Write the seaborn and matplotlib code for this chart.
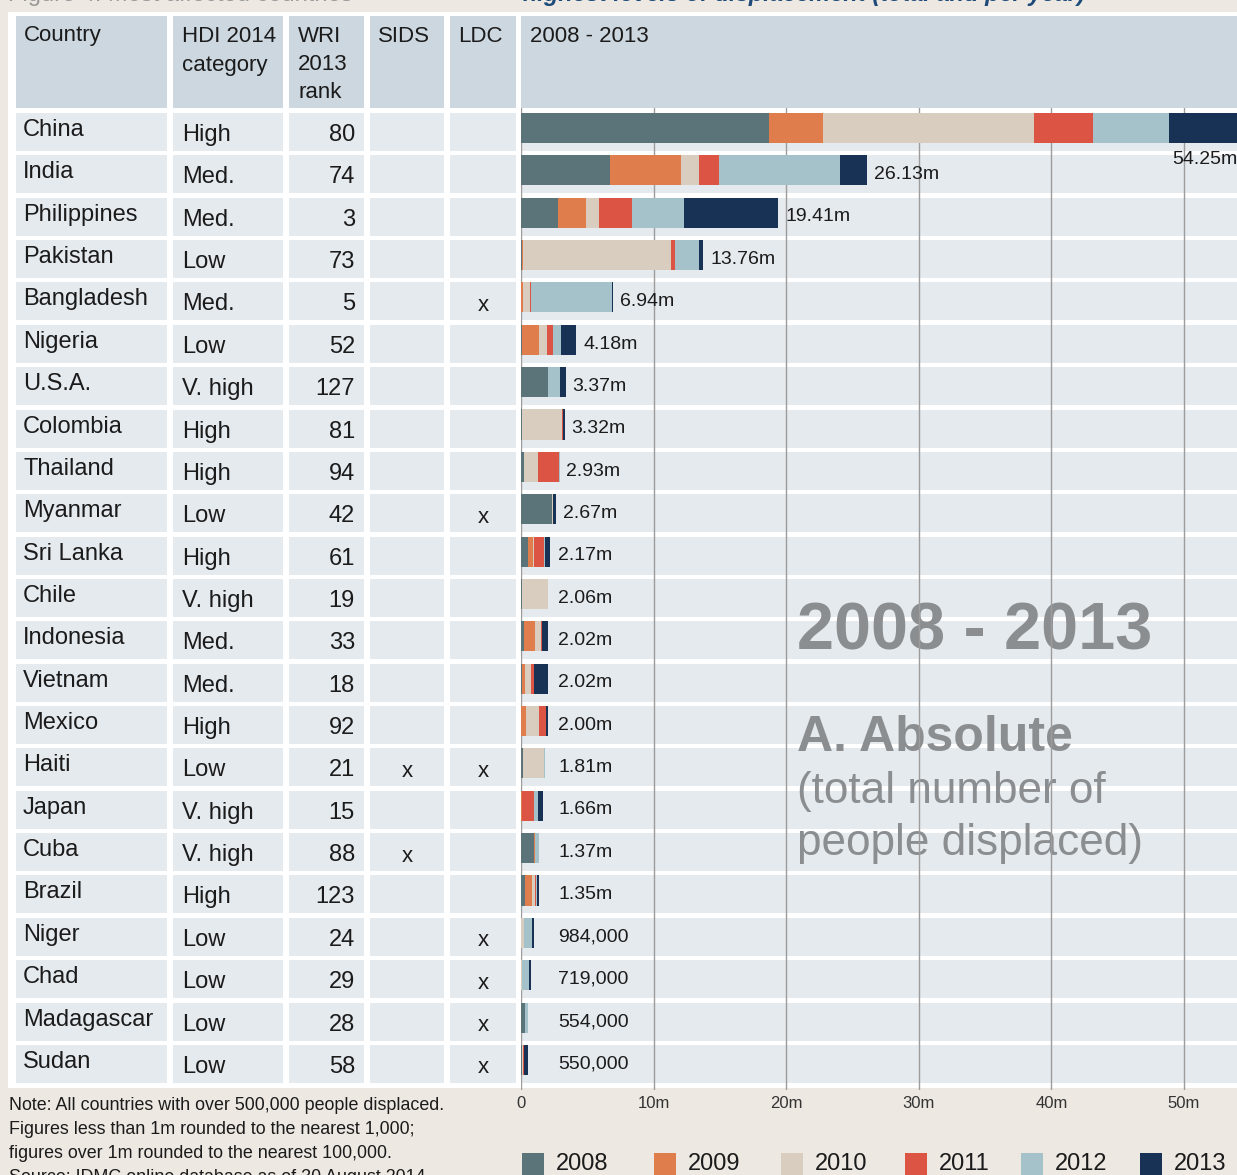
import matplotlib
matplotlib.use("Agg")
import matplotlib.pyplot as plt
from matplotlib.patches import Rectangle
import pandas as pd
import seaborn as sns

# ---- data ----
COUNTRIES = ["China", "India", "Philippines", "Pakistan", "Bangladesh", "Nigeria", "U.S.A.",
             "Colombia", "Thailand", "Myanmar", "Sri Lanka", "Chile", "Indonesia", "Vietnam",
             "Mexico", "Haiti", "Japan", "Cuba", "Brazil", "Niger", "Chad", "Madagascar", "Sudan"]
HDI = ["High", "Med.", "Med.", "Low", "Med.", "Low", "V. high", "High", "High", "Low", "High",
       "V. high", "Med.", "Med.", "High", "Low", "V. high", "V. high", "High", "Low", "Low", "Low", "Low"]
WRI = [80, 74, 3, 73, 5, 52, 127, 81, 94, 42, 61, 19, 33, 18, 92, 21, 15, 88, 123, 24, 29, 28, 58]
SIDS = ["", "", "", "", "", "", "", "", "", "", "", "", "", "", "", "x", "", "x", "", "", "", "", ""]
LDC = ["", "", "", "", "x", "", "", "", "", "x", "", "", "", "", "", "x", "", "", "", "x", "x", "x", "x"]
LABELS = ["54.25m", "26.13m", "19.41m", "13.76m", "6.94m", "4.18m", "3.37m", "3.32m", "2.93m",
          "2.67m", "2.17m", "2.06m", "2.02m", "2.02m", "2.00m", "1.81m", "1.66m", "1.37m",
          "1.35m", "984,000", "719,000", "554,000", "550,000"]

YEARS = ["2008", "2009", "2010", "2011", "2012", "2013"]
Y2008 = [18.72, 6.72, 2.79, 0.10, 0.02, 0.05, 2.00, 0.07, 0.25, 2.34, 0.55, 0.05, 0.24, 0.06, 0.02, 0.18, 0.03, 1.00, 0.31, 0.01, 0.02, 0.27, 0.05]
Y2009 = [4.07, 5.35, 2.10, 0.05, 0.15, 1.31, 0.02, 0.00, 0.00, 0.02, 0.37, 0.00, 0.80, 0.24, 0.38, 0.00, 0.02, 0.04, 0.51, 0.00, 0.00, 0.00, 0.05]
Y2010 = [15.90, 1.34, 1.00, 11.15, 0.50, 0.60, 0.02, 3.00, 1.05, 0.02, 0.08, 2.00, 0.47, 0.44, 0.92, 1.58, 0.02, 0.00, 0.20, 0.22, 0.05, 0.00, 0.05]
Y2011 = [4.45, 1.51, 2.48, 0.31, 0.08, 0.45, 0.02, 0.10, 1.58, 0.04, 0.75, 0.00, 0.05, 0.22, 0.53, 0.00, 0.93, 0.00, 0.12, 0.004, 0.00, 0.05, 0.05]
Y2012 = [5.71, 9.14, 3.93, 1.80, 6.12, 0.60, 0.88, 0.03, 0.05, 0.02, 0.04, 0.01, 0.05, 0.02, 0.05, 0.05, 0.28, 0.33, 0.08, 0.60, 0.569, 0.23, 0.05]
Y2013 = [5.40, 2.07, 7.11, 0.35, 0.07, 1.17, 0.43, 0.12, 0.00, 0.23, 0.38, 0.00, 0.41, 1.04, 0.10, 0.00, 0.38, 0.00, 0.13, 0.15, 0.08, 0.004, 0.30]
YEAR_COLORS = ["#5b747a", "#e07d4c", "#d8cdbe", "#dc5444", "#a5c1c9", "#183256"]

TICKS = [0, 10, 20, 30, 40, 50]
TICK_LABELS = ["0", "10m", "20m", "30m", "40m", "50m"]

NOTES = ["Note: All countries with over 500,000 people displaced.",
         "Figures less than 1m rounded to the nearest 1,000;",
         "figures over 1m rounded to the nearest 100,000.",
         "Source: IDMC online database as of 30 August 2014."]

BG = "#ede8e2"
CELL = "#e5eaee"
HEAD = "#ccd7e0"
INK = "#1b1b1b"
GREY = "#8b8e90"

sns.set_style("white")
plt.rcParams["font.family"] = ["Liberation Sans", "DejaVu Sans"]

W, H = 1237, 1175
fig = plt.figure(figsize=(W / 100, H / 100), dpi=100, facecolor=BG)

# background axes in pixel coordinates for the table part
bg = fig.add_axes([0, 0, 1, 1], zorder=0)
bg.set_xlim(0, W)
bg.set_ylim(H, 0)
bg.axis("off")

bg.add_patch(Rectangle((8, 12), W - 8, 1076, color="white", lw=0))

cols = [(16, 167), (173, 283), (289, 364), (370, 444), (450, 516), (521, W)]
for x0, x1 in cols:
    bg.add_patch(Rectangle((x0, 16), x1 - x0, 92, color=HEAD, lw=0))

PITCH = 42.36
n = len(COUNTRIES)
for i in range(n):
    top = 113 + PITCH * i
    for x0, x1 in cols:
        bg.add_patch(Rectangle((x0, top), x1 - x0, 38, color=CELL, lw=0))
    cy = top + 19
    bg.text(23, cy - 2, COUNTRIES[i], fontsize=17, color=INK, va="center")
    bg.text(182, cy + 3, HDI[i], fontsize=17, color=INK, va="center")
    bg.text(355, cy + 3, str(WRI[i]), fontsize=17, color=INK, va="center", ha="right")
    bg.text(407, cy + 4, SIDS[i], fontsize=16, color=INK, va="center", ha="center")
    bg.text(483, cy + 4, LDC[i], fontsize=16, color=INK, va="center", ha="center")

hdr = dict(fontsize=16, color=INK, va="center")
bg.text(24, 36, "Country", **hdr)
bg.text(182, 36, "HDI 2014", **hdr)
bg.text(182, 65, "category", **hdr)
bg.text(298, 36, "WRI", **hdr)
bg.text(298, 64, "2013", **hdr)
bg.text(298, 92, "rank", **hdr)
bg.text(378, 36, "SIDS", **hdr)
bg.text(458, 36, "LDC", **hdr)
bg.text(530, 36, "2008 - 2013", **hdr)

# title, cut off at the top edge like the reference
bg.text(8, 0.5, "Figure 4: Most affected countries", fontsize=17, color="#9a9a9a", va="baseline")
bg.text(1085, 0.5, "highest levels of displacement (total and per year)", fontsize=17,
        color="#1d4a78", va="baseline", ha="right", style="italic", weight="bold")

# big grey caption over the chart
bg.text(797, 632, "2008 - 2013", fontsize=48, weight="bold", color=GREY, va="center")
bg.text(797, 738, "A. Absolute", fontsize=36, weight="bold", color=GREY, va="center")
bg.text(797, 791, "(total number of", fontsize=31.8, color=GREY, va="center")
bg.text(797, 843, "people displaced)", fontsize=31.8, color=GREY, va="center")

for j, line in enumerate(NOTES):
    bg.text(9, 1106 + 24 * j, line, fontsize=12.9, color=INK, va="center")

legend_x = [522, 654, 781, 905, 1021, 1140]
for lx, yr, c in zip(legend_x, YEARS, YEAR_COLORS):
    bg.add_patch(Rectangle((lx, 1153), 22, 22, color=c, lw=0))
    bg.text(lx + 34, 1164, yr, fontsize=17, color=INK, va="center")

# stacked bars: draw cumulative totals, longest first
df = pd.DataFrame({"country": COUNTRIES, "2008": Y2008, "2009": Y2009, "2010": Y2010,
                   "2011": Y2011, "2012": Y2012, "2013": Y2013})
cum = df[YEARS].cumsum(axis=1)
df["total"] = cum["2013"]

top_px, bot_px, left_px = 108, 1090, 521
ax = fig.add_axes([left_px / W, (H - bot_px) / H, (W - left_px) / W, (bot_px - top_px) / H], zorder=1)
ax.patch.set_alpha(0)
for yr, c in zip(YEARS[::-1], YEAR_COLORS[::-1]):
    sns.barplot(x=cum[yr], y=df["country"], order=COUNTRIES, orient="h", color=c,
                saturation=1, width=0.71, linewidth=0, errorbar=None, ax=ax)

px_per_m = (1184 - 521) / 50
ax.set_xlim(0, (W - left_px) / px_per_m)
ax.set_ylim(22.71, -0.472)
ax.set_xticks(TICKS)
ax.set_xticklabels(TICK_LABELS, fontsize=12, color="#333333")
ax.tick_params(axis="x", length=0, pad=4)
ax.tick_params(axis="y", left=False, labelleft=False)
ax.set_xlabel("")
ax.set_ylabel("")
ax.grid(axis="x", color="#9c9c9c", lw=1.0)
ax.grid(axis="y", visible=False)
ax.set_axisbelow(True)
for s in ax.spines.values():
    s.set_visible(False)

for i, (tot, lab) in enumerate(zip(df["total"], LABELS)):
    if i == 0:
        ax.text(1.0, i + 0.75, lab, transform=ax.get_yaxis_transform(), ha="right",
                va="center", fontsize=14, color=INK)
    else:
        ax.text(max(tot + 0.5, 2.8), i + 0.1, lab, ha="left", va="center", fontsize=14, color=INK)

fig.savefig("out.png", dpi=100, facecolor=BG)
